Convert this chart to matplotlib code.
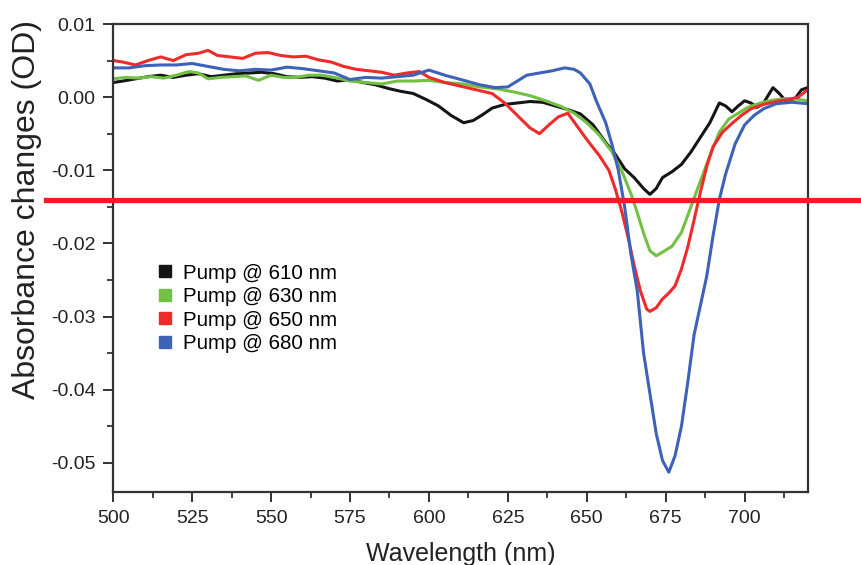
import matplotlib.pyplot as plt
from matplotlib.lines import Line2D
from matplotlib.ticker import MultipleLocator, FormatStrFormatter

plt.rcParams['font.family'] = ['Liberation Sans', 'DejaVu Sans']

# 泵浦 610 nm
wl_610 = [500, 503, 507, 511, 515, 519, 523, 527, 531, 535, 539, 543, 547, 551, 555, 559,
          563, 567, 571, 575, 579, 583, 587, 591, 595, 599, 603, 607, 611, 614, 617, 620,
          624, 628, 632, 636, 640, 644, 648, 652, 656, 659, 662, 665, 668, 670, 672, 674,
          677, 680, 683, 686, 689, 692, 694, 696, 698, 700, 702, 704, 706, 709, 711, 713,
          716, 718, 720]
od_610 = [0.0020, 0.0022, 0.0025, 0.0028, 0.0030, 0.0027, 0.0030, 0.0032, 0.0028, 0.0030,
          0.0032, 0.0033, 0.0034, 0.0032, 0.0028, 0.0027, 0.0028, 0.0026, 0.0022, 0.0024,
          0.0020, 0.0017, 0.0012, 0.0008, 0.0005, -0.0003, -0.0012, -0.0025, -0.0035, -0.0032,
          -0.0024, -0.0015, -0.0010, -0.0008, -0.0006, -0.0007, -0.0012, -0.0017, -0.0023,
          -0.0038, -0.0062, -0.0078, -0.0098, -0.0110, -0.0125, -0.0133, -0.0125, -0.0110,
          -0.0102, -0.0092, -0.0075, -0.0055, -0.0035, -0.0008, -0.0012, -0.0020, -0.0012,
          -0.0005, -0.0008, -0.0014, -0.0008, 0.0013, 0.0005, -0.0005, -0.0002, 0.0010, 0.0013]

# 泵浦 630 nm
wl_630 = [500, 504, 508, 512, 516, 520, 524, 527, 530, 534, 538, 542, 546, 550, 554, 558,
          562, 566, 570, 575, 580, 585, 590, 595, 600, 605, 611, 616, 622, 627, 632, 637,
          642, 646, 650, 654, 658, 661, 664, 666, 668, 670, 672, 674, 677, 680, 683, 686,
          689, 692, 695, 698, 701, 705, 709, 713, 717, 720]
od_630 = [0.0025, 0.0027, 0.0026, 0.0028, 0.0026, 0.0030, 0.0035, 0.0033, 0.0025, 0.0027,
          0.0028, 0.0029, 0.0023, 0.0030, 0.0027, 0.0027, 0.0030, 0.0030, 0.0027, 0.0022,
          0.0020, 0.0018, 0.0022, 0.0022, 0.0023, 0.0020, 0.0018, 0.0014, 0.0011, 0.0007,
          0.0002, -0.0005, -0.0013, -0.0022, -0.0035, -0.0052, -0.0075, -0.0100, -0.0132,
          -0.0158, -0.0186, -0.0210, -0.0217, -0.0212, -0.0204, -0.0185, -0.0150, -0.0115,
          -0.0080, -0.0048, -0.0030, -0.0022, -0.0014, -0.0008, -0.0004, -0.0002, -0.0003,
          -0.0005]

# 泵浦 650 nm
wl_650 = [500, 503, 507, 511, 515, 519, 523, 527, 530, 533, 537, 541, 545, 549, 553, 557,
          561, 565, 569, 573, 577, 581, 585, 589, 593, 597, 600, 605, 611, 616, 620, 624,
          628, 632, 635, 638, 641, 644, 647, 650, 654, 657, 659, 661, 663, 665, 667, 669,
          670, 672, 674, 676, 678, 680, 682, 684, 686, 688, 690, 693, 696, 699, 702, 706,
          710, 714, 717, 720]
od_650 = [0.0050, 0.0048, 0.0044, 0.0050, 0.0055, 0.0050, 0.0058, 0.0060, 0.0064, 0.0057,
          0.0055, 0.0053, 0.0060, 0.0061, 0.0057, 0.0055, 0.0056, 0.0051, 0.0048, 0.0042,
          0.0038, 0.0036, 0.0034, 0.0030, 0.0033, 0.0035, 0.0027, 0.0020, 0.0014, 0.0009,
          0.0005, -0.0008, -0.0025, -0.0042, -0.0050, -0.0038, -0.0027, -0.0022, -0.0040,
          -0.0058, -0.0080, -0.0100, -0.0125, -0.0155, -0.0190, -0.0230, -0.0265, -0.0290,
          -0.0293, -0.0288, -0.0276, -0.0268, -0.0258, -0.0235, -0.0205, -0.0168, -0.0130,
          -0.0095, -0.0068, -0.0048, -0.0036, -0.0025, -0.0016, -0.0010, -0.0006, -0.0003,
          0.0000, 0.0010]

# 泵浦 680 nm
wl_680 = [500, 505, 510, 515, 520, 525, 530, 535, 540, 545, 550, 555, 560, 565, 570, 575,
          580, 585, 590, 595, 600, 605, 611, 616, 621, 625, 628, 631, 635, 639, 643, 646,
          648, 651, 653, 656, 658, 660, 662, 664, 666, 668, 670, 672, 674, 676, 678, 680,
          682, 684, 686, 688, 690, 692, 694, 697, 700, 703, 706, 710, 715, 720]
od_680 = [0.0040, 0.0040, 0.0043, 0.0044, 0.0044, 0.0046, 0.0042, 0.0038, 0.0036, 0.0038,
          0.0037, 0.0041, 0.0039, 0.0036, 0.0033, 0.0024, 0.0027, 0.0026, 0.0028, 0.0030,
          0.0037, 0.0030, 0.0023, 0.0017, 0.0013, 0.0014, 0.0022, 0.0030, 0.0033, 0.0036,
          0.0040, 0.0038, 0.0033, 0.0018, -0.0005, -0.0035, -0.0065, -0.0100, -0.0150,
          -0.0215, -0.0265, -0.0350, -0.0405, -0.0460, -0.0497, -0.0513, -0.0490, -0.0450,
          -0.0390, -0.0325, -0.0285, -0.0245, -0.0190, -0.0140, -0.0105, -0.0064, -0.0038,
          -0.0025, -0.0016, -0.0009, -0.0007, -0.0009]

labels = ["Pump @ 610 nm", "Pump @ 630 nm", "Pump @ 650 nm", "Pump @ 680 nm"]
colors = ["#151515", "#72c044", "#ee2a2a", "#3d62b8"]
yticks = [-0.05, -0.04, -0.03, -0.02, -0.01, 0.0, 0.01]
marker_y = -0.014

fig = plt.figure(figsize=(8.61, 5.65), dpi=100)
ax = fig.add_axes([0.1316, 0.1292, 0.8065, 0.8283])

series = [(wl_610, od_610), (wl_630, od_630), (wl_650, od_650), (wl_680, od_680)]
for (x, y), c in zip(series, colors):
    ax.plot(x, y, color=c, lw=2.2, solid_joinstyle='round')

ax.set_xlim(500, 720)
ax.set_ylim(-0.054, 0.01)
ax.xaxis.set_major_locator(MultipleLocator(25))
ax.xaxis.set_minor_locator(MultipleLocator(12.5))
ax.set_yticks(yticks)
ax.yaxis.set_minor_locator(MultipleLocator(0.005))
ax.yaxis.set_major_formatter(FormatStrFormatter('%.2f'))

ax.tick_params(which='major', direction='out', length=7, width=1.3,
               labelsize=14, colors='#222222', pad=6)
ax.tick_params(which='minor', direction='out', length=4, width=1.2, colors='#222222')
for s in ax.spines.values():
    s.set_linewidth(1.6)
    s.set_color('#333333')

ax.set_xlabel("Wavelength (nm)", fontsize=18, color='#222222', labelpad=11)
ax.set_ylabel("Absorbance changes (OD)", fontsize=23, color='#222222')
ax.yaxis.set_label_coords(-0.103, 0.603)

handles = [Line2D([], [], ls='none', marker='s', markersize=8, color=c) for c in colors]
ax.legend(handles, labels, loc='upper left', bbox_to_anchor=(0.051, 0.51),
          frameon=False, fontsize=14.8, handlelength=0.6, handletextpad=0.55,
          labelspacing=0.22, borderpad=0)

# 标注红线
ax.axhline(marker_y, xmin=-0.097, xmax=1.077, color='#ee1c24', lw=3.8, clip_on=False, zorder=5)

fig.savefig("out.png", dpi=100)
